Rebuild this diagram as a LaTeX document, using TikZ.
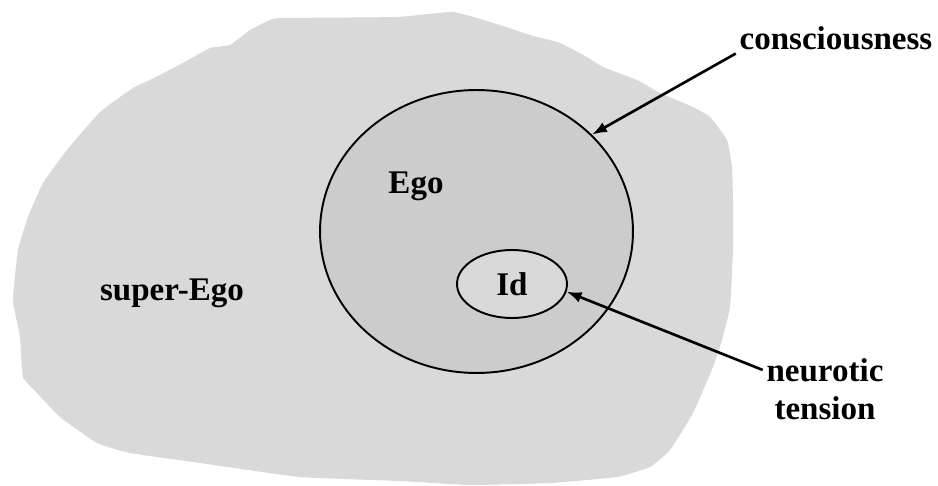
\documentclass[tikz,border=0pt]{standalone}
\usepackage{fontspec}
\setmainfont{Liberation Serif}
\usetikzlibrary{shapes.geometric,arrows.meta,positioning}
\definecolor{blobgray}{gray}{0.85}
\definecolor{egogray}{gray}{0.8}

\begin{document}
\begin{tikzpicture}[
		x=0.02cm, y=-0.02cm,
		every node/.style = {inner sep=2pt,
				font=\fontsize{18.8}{22}\selectfont\bfseries},
		region/.style = {shape=ellipse, draw, line width=1.1pt},
		pointer/.style = {-{Latex[length=0.3cm,width=0.22cm]}, line width=1.5pt}
	]
	\useasboundingbox (0,0) rectangle (938,486);

	\fill[blobgray] plot[smooth cycle, tension=0.25] coordinates {
			(67,150) (100,112) (133,88) (150,80) (183,63) (210,48)
			(230,45) (250,30) (270,20) (283,18) (397,17) (453,12)
			(500,25) (530,35) (560,43) (587,57) (603,67) (637,80)
			(660,93) (693,107) (710,117) (727,140) (732,167) (733,200)
			(733,250) (730,307) (722,340) (713,367) (693,413) (670,450)
			(650,467) (617,477) (550,483) (470,485) (400,481) (300,477)
			(200,463) (130,453) (97,443) (60,417) (37,393) (23,377)
			(20,337) (13,300) (18,250) (28,217) (43,183)};

	\node[region, fill=egogray, minimum width=6.26cm, minimum height=5.66cm]
		(ego) at (476.5,231.5) {};
	\node[region, fill=blobgray, minimum width=2.2cm, minimum height=1.36cm]
		(id) at (512,284) {Id};

	\node (egolbl) at (416,186) {Ego};
	\node (superego) at (172,293) {super-Ego};
	\node (consc) at (836,38) {consciousness};
	\node (neur) at (825,370) {neurotic};
	\node[below=0.15cm of neur] (tens) {tension};

	\draw[pointer] (consc.south west) -- (ego.40);
	\draw[pointer] (neur.west) -- (id.-8);
\end{tikzpicture}
\end{document}
